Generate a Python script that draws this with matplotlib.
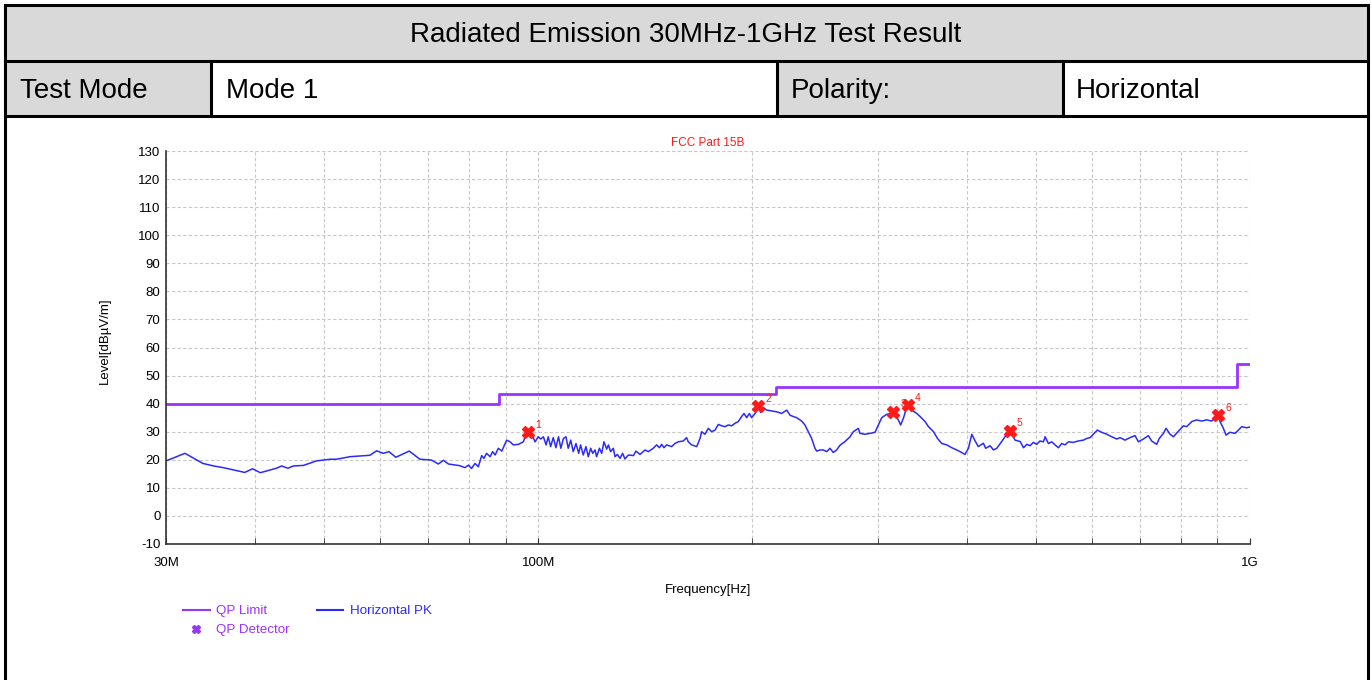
import matplotlib
matplotlib.use("Agg")
import matplotlib.pyplot as plt
from matplotlib.lines import Line2D
from matplotlib.patches import Rectangle

plt.rcParams['font.family'] = ['Liberation Sans', 'DejaVu Sans']
plt.rcParams['axes.unicode_minus'] = False

# ---- data ----
title = "Radiated Emission 30MHz-1GHz Test Result"
mode_label, mode_value = "Test Mode", "Mode 1"
pol_label, pol_value = "Polarity:", "Horizontal"
limit_name = "FCC Part 15B"

# QP limit, step edges in MHz
limit_freq = [30, 88, 216, 960, 1000]
limit_level = [40, 43.5, 46, 54, 54]

# Horizontal PK trace (MHz, dBuV/m)
trace_freq = [
    # 30 - 75 MHz
    30.0, 31.9, 33.8, 35.0, 36.1, 38.7, 39.7, 40.7, 42.9, 43.6, 44.5, 45.3, 46.8,
    48.8, 51.0, 52.1, 54.4, 58.0, 59.3, 60.6, 61.7, 63.1, 65.9, 68.2, 70.8, 72.4,
    73.6, 74.8,
    # 77 - 138 MHz
    77.6, 78.9, 79.8, 80.6, 81.5, 82.4, 83.3, 83.9, 84.6, 85.6, 86.3, 87.0, 87.9,
    88.9, 90.3, 91.3, 92.3, 93.8, 95.3, 96.4, 96.9, 97.9, 99.0, 100.0, 100.8,
    101.7, 102.6, 103.3, 104.1, 105.0, 105.9, 106.8, 107.6, 108.5, 109.4, 110.2,
    111.1, 112.0, 113.0, 114.0, 114.7, 115.7, 116.7, 117.6, 118.5, 119.3, 120.2,
    120.8, 121.9, 122.8, 123.7, 124.8, 125.5, 126.4, 127.5, 128.2, 129.2, 130.3,
    131.4, 132.4, 133.9, 136.1, 137.2,
    # 139 - 247 MHz
    139.0, 141.3, 142.8, 145.1, 146.7, 148.0, 149.1, 150.2, 151.5, 154.0, 155.6,
    157.3, 159.9, 161.6, 162.5, 164.3, 167.0, 168.8, 169.7, 171.5, 173.4, 175.3,
    177.2, 179.1, 181.0, 183.0, 185.0, 187.0, 189.0, 191.0, 193.1, 194.6, 196.3,
    198.0, 199.5, 201.7, 203.8, 205.4, 207.2, 209.4, 212.8, 216.3, 219.8, 223.4,
    225.8, 228.3, 230.7, 234.5, 237.0, 239.6, 242.2, 244.8, 246.2,
    # 248 - 470 MHz
    248.9, 251.5, 254.3, 257.0, 259.8, 262.6, 265.5, 269.8, 274.2, 277.2, 281.7,
    283.2, 287.8, 292.5, 297.3, 300.6, 303.8, 308.8, 313.8, 316.2, 318.8, 323.0,
    325.9, 330.1, 334.8, 340.3, 344.0, 349.6, 353.4, 359.2, 363.9, 368.9, 375.0,
    381.1, 387.2, 393.5, 397.7, 402.2, 406.6, 411.0, 415.3, 422.1, 425.3, 431.4,
    436.1, 440.8, 447.9, 455.2, 460.1, 467.7,
    # 475 - 1000 MHz
    475.5, 480.6, 485.8, 490.9, 496.2, 501.6, 507.0, 512.6, 515.4, 520.9, 526.6,
    532.3, 538.1, 543.9, 549.7, 555.7, 564.6, 573.8, 583.4, 589.7, 596.1, 602.5,
    610.3, 618.8, 629.1, 639.4, 649.9, 656.8, 667.4, 678.4, 689.5, 696.9, 708.3,
    719.8, 727.5, 739.4, 745.7, 755.6, 762.2, 772.2, 780.6, 793.3, 806.3, 814.9,
    828.2, 841.6, 855.3, 869.2, 883.5, 893.1, 902.8, 907.7, 917.5, 925.5, 937.4,
    952.9, 963.1, 973.6, 989.4, 1000.0]
trace_level = [
    19.6, 22.3, 18.7, 17.8, 17.2, 15.5, 16.8, 15.4, 17.0, 17.8, 17.0, 17.8, 18.0,
    19.6, 20.2, 20.2, 21.1, 21.6, 23.2, 22.3, 22.9, 20.9, 23.1, 20.2, 19.9, 18.5,
    19.8, 18.5,
    17.9, 17.2, 18.1, 16.9, 18.7, 17.5, 21.5, 20.5, 22.3, 21.1, 22.9, 21.7, 24.1,
    23.1, 27.0, 26.4, 25.3, 25.5, 26.4, 29.8, 30.0, 29.1, 26.4, 28.2, 27.4,
    28.2, 25.3, 28.2, 24.7, 27.9, 24.3, 28.2, 24.1, 27.6, 28.2, 24.1,
    27.0, 22.9, 25.8, 22.3, 25.3, 21.7, 24.7, 21.1, 24.1, 22.3, 23.5,
    21.1, 24.1, 22.3, 26.4, 23.8, 25.3, 22.9, 24.1, 21.1, 21.9, 20.5,
    22.3, 20.3, 21.7, 21.5, 23.1,
    21.9, 23.5, 22.9, 24.1, 25.3, 24.3, 25.5, 24.3, 25.3, 24.7, 25.8,
    26.4, 26.7, 27.9, 26.4, 25.3, 24.7, 27.6, 30.0, 29.1, 31.2, 30.0,
    30.6, 32.6, 32.1, 31.8, 32.4, 32.1, 33.0, 33.6, 35.4, 36.5, 35.0,
    36.5, 35.0, 36.5, 39.0, 36.9, 38.6, 37.7, 37.4, 37.1, 36.5, 37.7,
    35.9, 35.4, 35.0, 33.8, 32.4, 30.0, 27.6, 24.1, 23.1,
    23.5, 23.5, 22.9, 24.1, 22.6, 23.5, 25.2, 26.5, 28.2, 30.0, 31.2,
    29.4, 29.1, 29.4, 29.8, 32.4, 35.0, 36.2, 36.5, 37.1, 35.4, 32.4,
    34.8, 39.5, 37.7, 36.5, 35.4, 33.6, 31.8, 30.0, 27.6, 25.8, 25.3,
    24.3, 23.5, 22.6, 21.9, 24.1, 29.1, 26.7, 24.7, 25.9, 24.1, 25.0,
    23.5, 24.1, 26.5, 29.1, 30.4, 27.0,
    26.5, 24.3, 25.5, 25.0, 26.2, 25.5, 26.7, 26.4, 28.2, 25.8, 26.4,
    25.3, 24.3, 25.8, 25.3, 26.4, 26.2, 26.7, 27.0, 27.6, 27.9, 29.1,
    30.6, 29.8, 29.1, 28.2, 27.4, 27.9, 27.0, 27.9, 28.6, 26.4, 27.4,
    28.6, 26.7, 25.5, 27.6, 29.4, 31.2, 29.1, 28.2, 30.2, 32.1, 31.8,
    33.6, 34.2, 33.8, 34.2, 33.8, 34.8, 36.0, 33.6, 31.2, 28.8, 29.8,
    29.4, 30.6, 31.8, 31.4, 31.7]

# QP detector points
peak_no = [1, 2, 3, 4, 5, 6]
peak_freq = [96.9, 203.8, 315.4, 330.4, 460.1, 902.8]
peak_level = [30.0, 39.2, 37.2, 39.6, 30.4, 36.0]

x_major = [30, 100, 1000]
x_major_labels = ["30M", "100M", "1G"]
x_minor = [40, 50, 60, 70, 80, 90, 200, 300, 400, 500, 600, 700, 800, 900]
y_ticks = list(range(-10, 131, 10))

limit_color = '#9933ff'
trace_color = '#2a2aff'
peak_color = '#ff1a1a'
W, H = 1372, 680

fig = plt.figure(figsize=(W / 100, H / 100), dpi=100)

# ---- report frame / header table (pixel coords) ----
bg = fig.add_axes([0, 0, 1, 1], zorder=0)
bg.set_xlim(0, W)
bg.set_ylim(H, 0)
bg.axis('off')
grey = '#d9d9d9'
bg.add_patch(Rectangle((5, 5), 1363, 56, facecolor=grey, edgecolor='none'))
bg.add_patch(Rectangle((5, 61), 206, 55, facecolor=grey, edgecolor='none'))
bg.add_patch(Rectangle((777, 61), 286, 55, facecolor=grey, edgecolor='none'))
lw = 2.2
bg.plot([5, 1368], [5, 5], color='black', lw=lw)
bg.plot([5, 1368], [61, 61], color='black', lw=lw)
bg.plot([5, 1368], [116, 116], color='black', lw=lw)
bg.plot([5, 5], [5, H], color='black', lw=lw)
bg.plot([1368, 1368], [5, H], color='black', lw=lw)
for xv in [211, 777, 1063]:
    bg.plot([xv, xv], [61, 116], color='black', lw=lw)
bg.text(686, 35, title, fontsize=20, ha='center', va='center')
bg.text(20, 91, mode_label, fontsize=20, ha='left', va='center')
bg.text(226, 91, mode_value, fontsize=20, ha='left', va='center')
bg.text(791, 91, pol_label, fontsize=20, ha='left', va='center')
bg.text(1076, 91, pol_value, fontsize=20, ha='left', va='center')

# ---- chart ----
ax = fig.add_axes([166 / W, 1 - 544 / H, 1084 / W, 393 / H], zorder=1)
ax.patch.set_alpha(0)
ax.set_xscale('log')
ax.set_xlim(30, 1000)
ax.set_ylim(-10, 130)

ax.plot(limit_freq, limit_level, drawstyle='steps-post', color=limit_color, lw=2.0)
ax.plot(trace_freq, trace_level, color=trace_color, lw=1.1)
ax.plot(peak_freq, peak_level, ls='none', marker='X', ms=8, color=peak_color, mec=peak_color)
for n, f, l in zip(peak_no, peak_freq, peak_level):
    ax.annotate(str(n), (f, l), xytext=(5, 3), textcoords='offset points',
                fontsize=7.5, color=peak_color)

ax.set_xticks(x_major)
ax.set_xticklabels(x_major_labels)
ax.set_xticks(x_minor, minor=True)
ax.set_yticks(y_ticks)
ax.grid(True, which='both', color='#c8c8c8', ls=(0, (3, 2)), lw=0.8)
ax.tick_params(axis='x', which='both', direction='in', length=4, labelsize=9.5, pad=9, color='#333333')
ax.tick_params(axis='y', length=0, labelsize=9.5, pad=4)
for s in ['top', 'right']:
    ax.spines[s].set_visible(False)
for s in ['left', 'bottom']:
    ax.spines[s].set_color('#333333')
    ax.spines[s].set_linewidth(1.2)
ax.set_axisbelow(True)

fig.text(708 / W, 1 - 143 / H, limit_name, color=peak_color, fontsize=8.5, ha='center', va='center')
fig.text(708 / W, 1 - 590 / H, "Frequency[Hz]", fontsize=9.5, ha='center', va='center')
fig.text(105 / W, 1 - 341 / H, "Level[dBµV/m]", fontsize=9.5, ha='center', va='center', rotation=90)

handles = [Line2D([], [], color=limit_color, lw=1.5),
           Line2D([], [], ls='none', marker='X', ms=6, color=limit_color),
           Line2D([], [], color=trace_color, lw=1.5)]
labels = ["QP Limit", "QP Detector", "Horizontal PK"]
fig.legend(handles, labels, loc='upper left', bbox_to_anchor=(183 / W, 1 - 605 / H),
           ncol=2, frameon=False, fontsize=9.6, borderpad=0, borderaxespad=0,
           handlelength=2.0, handletextpad=0.5, columnspacing=2.0, labelspacing=0.5,
           labelcolor=[limit_color, limit_color, trace_color])

fig.savefig('out.png', dpi=100)
